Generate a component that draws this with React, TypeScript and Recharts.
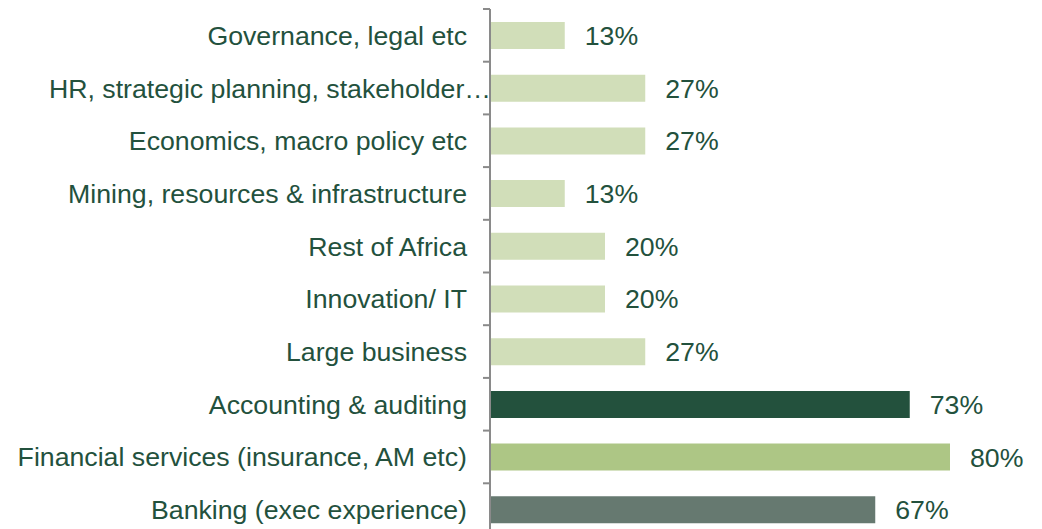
import { BarChart, Bar, XAxis, YAxis, Cell, LabelList } from "recharts"

// Data, top to bottom as shown
const categories = [
    "Governance, legal etc",
    "HR, strategic planning, stakeholder…",
    "Economics, macro policy etc",
    "Mining, resources & infrastructure",
    "Rest of Africa",
    "Innovation/ IT",
    "Large business",
    "Accounting & auditing",
    "Financial services (insurance, AM etc)",
    "Banking (exec experience)",
]
const shares = [13, 27, 27, 13, 20, 20, 27, 73, 80, 67]
const barColors = [
    "#D1DEB9", "#D1DEB9", "#D1DEB9", "#D1DEB9", "#D1DEB9", "#D1DEB9", "#D1DEB9",
    "#23513D", "#ADC685", "#667970",
]

const data = categories.map((name, i) => ({ name, value: shares[i] }))

const TEXT = "#23513D"
const AXIS = "#8A8A8A"
const FONT = "'Liberation Sans', Arial, sans-serif"
const FONT_SIZE = 26.7
const TOP = 9
const PLOT_H = 527
const BAND = PLOT_H / categories.length

const CategoryTick = (props: any) => {
    const { x, y, payload, index } = props
    const label: string = payload.value
    // truncated label runs up to the axis in the original
    const shift = label.endsWith("…") ? 24 : 0
    const axisX = x + 6
    return (
        <g>
            <line x1={axisX - 7} x2={axisX} y1={y - BAND / 2} y2={y - BAND / 2} stroke={AXIS} strokeWidth={2} />
            {index === categories.length - 1 && (
                <line x1={axisX - 7} x2={axisX} y1={y + BAND / 2} y2={y + BAND / 2} stroke={AXIS} strokeWidth={2} />
            )}
            <text x={x - 17 + shift} y={y} dy="0.355em" textAnchor="end" fill={TEXT} fontSize={FONT_SIZE} fontFamily={FONT}>
                {label}
            </text>
        </g>
    )
}

export default function App() {
    return (
        <div style={{ position: "fixed", left: 0, top: 0, width: 1042, height: 529, overflow: "hidden", background: "#fff" }}>
            <BarChart
                width={1042}
                height={TOP + PLOT_H}
                data={data}
                layout="vertical"
                margin={{ top: TOP, right: 0, left: 0, bottom: 0 }}
            >
                <XAxis type="number" domain={[0, 96]} hide />
                <YAxis
                    type="category"
                    dataKey="name"
                    width={490}
                    axisLine={{ stroke: AXIS, strokeWidth: 2 }}
                    tickLine={false}
                    tickMargin={0}
                    tick={<CategoryTick />}
                    interval={0}
                />
                <Bar dataKey="value" barSize={27} isAnimationActive={false}>
                    {data.map((d, i) => (
                        <Cell key={d.name} fill={barColors[i]} />
                    ))}
                    <LabelList
                        dataKey="value"
                        position="right"
                        offset={20}
                        formatter={(v: any) => `${v}%`}
                        fill={TEXT}
                        fontSize={FONT_SIZE}
                        fontFamily={FONT}
                    />
                </Bar>
            </BarChart>
        </div>
    )
}
